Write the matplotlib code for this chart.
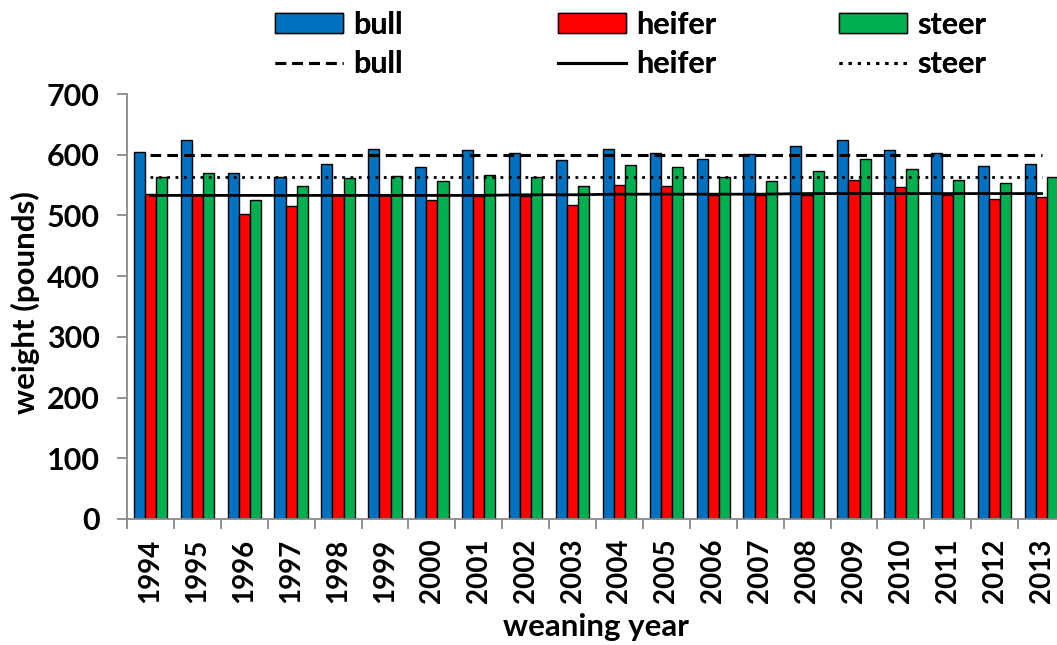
import matplotlib
matplotlib.use("Agg")
import matplotlib.pyplot as plt
from matplotlib.patches import Patch
from matplotlib.lines import Line2D
import numpy as np

years = [str(y) for y in range(1994, 2014)]
bull = [605, 625, 570, 564, 585, 610, 580, 608, 603, 591,
        609, 603, 593, 601, 614, 625, 608, 603, 582, 585]
heifer = [535, 533, 503, 515, 533, 533, 525, 532, 532, 517,
          550, 548, 533, 534, 534, 559, 547, 534, 527, 530]
steer = [564, 570, 525, 548, 562, 565, 556, 566, 563, 548,
         583, 580, 563, 557, 573, 593, 577, 559, 553, 564]
bull_avg = [600] * 20
heifer_avg = [533, 533, 533, 533, 533, 533, 533, 533, 534, 534,
              535, 535, 535, 535, 536, 536, 536, 536, 536, 536]
steer_avg = [564] * 20

C_BULL, C_HEIFER, C_STEER = "#0070C0", "#FF0000", "#00B050"
FONT = "Lato"
plt.rcParams["font.family"] = [FONT, "DejaVu Sans"]
plt.rcParams["font.weight"] = "bold"

fig = plt.figure(figsize=(10.57, 6.45), dpi=100)
ax = fig.add_axes([127 / 1057, 1 - 519 / 645, (1065 - 127) / 1057, (519 - 94) / 645])

x = np.arange(len(years))
w = 0.237
ax.bar(x - w, bull, w, color=C_BULL, edgecolor="black", linewidth=1.0, zorder=2)
ax.bar(x, heifer, w, color=C_HEIFER, edgecolor="black", linewidth=1.0, zorder=2)
ax.bar(x + w, steer, w, color=C_STEER, edgecolor="black", linewidth=1.0, zorder=2)
ax.plot(x, bull_avg, color="black", linestyle=(0, (3.5, 2)), linewidth=2.2, zorder=3)
ax.plot(x, heifer_avg, color="black", linestyle="-", linewidth=2.0, zorder=3)
ax.plot(x, steer_avg, color="black", linestyle=(0, (1, 2)), linewidth=2.0, zorder=3)

ax.set_xlim(-0.5, len(years) - 0.5)
ax.set_ylim(0, 700)
ax.set_yticks(range(0, 701, 100))
ax.set_xticks(x)
ax.set_xticklabels(years, rotation=90, fontsize=20, fontweight="bold")
ax.set_xticks(np.arange(-0.5, len(years), 1.0), minor=True)
ax.tick_params(axis="x", which="major", length=0, pad=14)
ax.tick_params(axis="x", which="minor", length=7, width=1.3, color="#898989", direction="out")
ax.tick_params(axis="y", length=7.5, width=1.3, color="#898989", pad=12, labelsize=22)
for lab in ax.get_yticklabels():
    lab.set_fontweight("bold")
for s in ["top", "right"]:
    ax.spines[s].set_visible(False)
for s in ["left", "bottom"]:
    ax.spines[s].set_color("#898989")
    ax.spines[s].set_linewidth(1.3)

fig.text(25 / 1057, 1 - 303 / 645, "weight (pounds)", rotation=90, ha="center", va="center",
         fontsize=22.5, fontweight="bold")
fig.text(596 / 1057, 1 - 627 / 645, "weaning year", ha="center", va="center",
         fontsize=22.5, fontweight="bold")

groups = [
    (275, "bull", C_BULL, (0, (3.5, 2))),
    (558, "heifer", C_HEIFER, "-"),
    (839, "steer", C_STEER, (0, (1, 2))),
]
for xpos, name, col, ls in groups:
    handles = [Patch(facecolor=col, edgecolor="black", linewidth=1.0),
               Line2D([0], [0], color="black", linestyle=ls, linewidth=2.2)]
    leg = fig.legend(handles, [name, name], loc="upper left",
                     bbox_to_anchor=(xpos / 1057, 1 - 11 / 645), frameon=False,
                     borderpad=0, borderaxespad=0, handlelength=2.23, handleheight=0.62,
                     handletextpad=0.33, labelspacing=0.37,
                     prop={"family": FONT, "weight": "bold", "size": 22})
    fig.add_artist(leg)

fig.savefig("out.png", dpi=100)
